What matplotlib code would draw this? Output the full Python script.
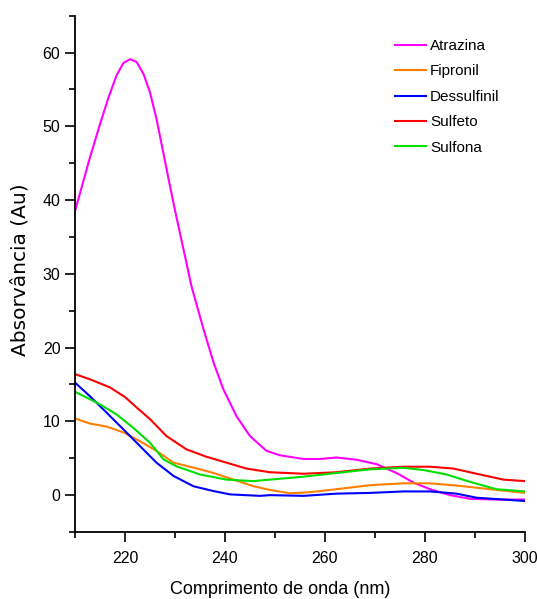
import matplotlib
matplotlib.use("Agg")
import matplotlib.pyplot as plt
from matplotlib.ticker import MultipleLocator

# ---- data ----
atrazina_x = [210, 213, 215, 216.7, 218.3, 219.7, 221, 222.3, 223.7, 225, 226.3, 227.7, 228.7,
              230, 232, 233.3, 235.7, 237.7, 239.7, 242.3, 245, 248.3, 251, 255.7, 259,
              262.3, 266.3, 270.3, 274.3, 277.7, 281, 285, 289, 294.3, 300]
atrazina_y = [38.5, 45.8, 50.3, 53.9, 56.9, 58.6, 59.1, 58.75, 57.1, 54.6, 51.0, 46.3, 42.9,
              38.6, 32.4, 28.3, 22.5, 18.0, 14.3, 10.7, 8.0, 6.0, 5.4, 4.9, 4.9,
              5.1, 4.8, 4.2, 3.0, 1.7, 0.8, 0.0, -0.5, -0.6, -0.6]

fipronil_x = [210, 213, 216.3, 219.7, 223, 226.3, 229.7, 235, 237.7, 241.7, 245.7, 249,
              253, 257, 262.3, 269, 275.7, 281, 286.3, 293, 300]
fipronil_y = [10.4, 9.7, 9.3, 8.5, 7.3, 6.0, 4.4, 3.5, 3.0, 2.1, 1.2, 0.7,
              0.25, 0.4, 0.8, 1.35, 1.6, 1.6, 1.3, 0.8, 0.3]

dessulfinil_x = [210, 213, 216.3, 219.7, 223, 226.3, 229.7, 233.7, 237.7, 241, 247, 249,
                 255.7, 262.3, 269, 275.7, 281, 286.3, 290.3, 295.7, 300]
dessulfinil_y = [15.25, 13.4, 11.2, 8.9, 6.65, 4.4, 2.6, 1.2, 0.55, 0.1, -0.1, 0.0,
                 -0.1, 0.2, 0.3, 0.5, 0.5, 0.2, -0.35, -0.6, -0.8]

sulfeto_x = [210, 213, 217, 220, 222.3, 225, 228.3, 232.3, 236.3, 240.3, 244.3, 249,
             255.7, 262.3, 269, 275.7, 281, 285.7, 290.3, 295.7, 300]
sulfeto_y = [16.4, 15.7, 14.6, 13.3, 11.9, 10.3, 8.0, 6.2, 5.2, 4.4, 3.6, 3.1,
             2.9, 3.1, 3.6, 3.85, 3.85, 3.6, 2.9, 2.1, 1.9]

sulfona_x = [210, 213, 215, 218.3, 221.7, 225, 227.7, 230.3, 235, 240.3, 245.7, 249,
             255.7, 262.3, 269, 275.7, 279.7, 284.3, 289, 294.3, 300]
sulfona_y = [14.0, 13.0, 12.3, 10.95, 9.1, 7.1, 4.85, 3.9, 2.8, 2.1, 1.9, 2.1,
             2.5, 3.0, 3.5, 3.7, 3.4, 2.8, 1.8, 0.8, 0.5]

series = [
    ("Atrazina", atrazina_x, atrazina_y, "#FF00FF"),
    ("Fipronil", fipronil_x, fipronil_y, "#FF8000"),
    ("Dessulfinil", dessulfinil_x, dessulfinil_y, "#0000FF"),
    ("Sulfeto", sulfeto_x, sulfeto_y, "#FF0000"),
    ("Sulfona", sulfona_x, sulfona_y, "#00E000"),
]

x_ticks = [220, 240, 260, 280, 300]
y_ticks = [0, 10, 20, 30, 40, 50, 60]

narrow = ["Liberation Sans Narrow", "Liberation Sans", "DejaVu Sans"]

fig = plt.figure(figsize=(5.37, 5.99), dpi=100)
ax = fig.add_axes([75 / 537, 1 - 532 / 599, 450 / 537, 516.3 / 599])

for name, xs, ys, col in series:
    ax.plot(xs, ys, color=col, lw=1.5, label=name, solid_joinstyle="round")

ax.set_xlim(210, 300)
ax.set_ylim(-5, 65)
ax.set_xticks(x_ticks)
ax.set_yticks(y_ticks)
ax.xaxis.set_minor_locator(MultipleLocator(10))
ax.yaxis.set_minor_locator(MultipleLocator(5))
ax.tick_params(which="major", direction="out", length=7, width=1.2, labelsize=11.5)
ax.tick_params(which="minor", direction="out", length=4, width=1.2)
ax.tick_params(axis="x", which="major", pad=7)
for lab in ax.get_xticklabels() + ax.get_yticklabels():
    lab.set_family(narrow)

for s in ("top", "right"):
    ax.spines[s].set_visible(False)
for s in ("left", "bottom"):
    ax.spines[s].set_linewidth(1.3)

ax.set_xlabel("Comprimento de onda (nm)", family=narrow, fontsize=13, va="center")
ax.xaxis.set_label_coords(0.456, (532 - 589) / 516.3)
ax.set_ylabel("Absorvância (Au)", family="DejaVu Sans", fontsize=14.5, va="center")
ax.yaxis.set_label_coords((20 - 75) / 450, (532 - 270) / 516.3)

leg = ax.legend(loc="upper left", bbox_to_anchor=((395 - 75) / 450, (532 - 39) / 516.3),
                frameon=False, borderaxespad=0, borderpad=0, labelspacing=0.75,
                handlelength=2.0, handletextpad=0.3, prop={"family": narrow, "size": 11})

fig.savefig("out.png", dpi=100)
